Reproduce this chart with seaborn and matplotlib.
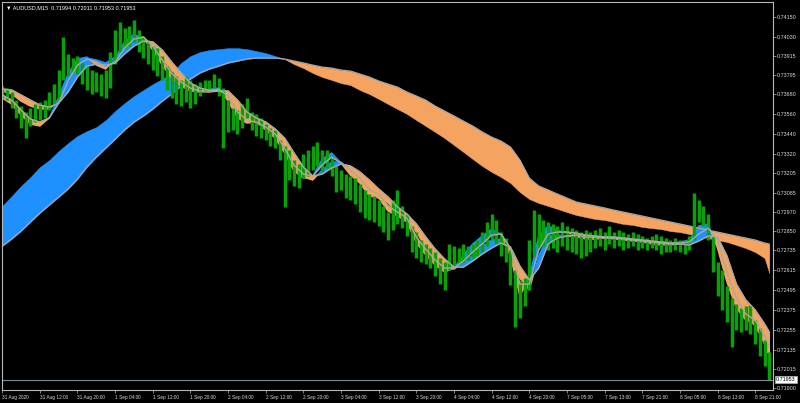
import numpy as np
import seaborn as sns
import matplotlib
matplotlib.use("Agg")
import matplotlib.pyplot as plt
from matplotlib.transforms import blended_transform_factory

# AUDUSD M15, values, prices in points (1e-5)

# bar high / low, one entry every 4 bars
bar_high = [
    73730, 73718, 73694, 73645, 73609, 73573, 73597, 73621, 73633, 73645,
    73694, 73742, 73827, 74027, 73924, 73900, 73912, 73876, 73851, 73827,
    73815, 73803, 73827, 73936, 74069, 74118, 74081, 74094, 74130, 74069,
    74033, 74009, 73972, 73960, 73912, 73851, 73815, 73791, 73767, 73791,
    73767, 73742, 73754, 73767, 73767, 73803, 73779, 73718, 73645, 73597,
    73585, 73621, 73658, 73573, 73561, 73537, 73500, 73476, 73464, 73403,
    73367, 73343, 73282, 73258, 73319, 73343, 73367, 73391, 73343, 73343,
    73306, 73246, 73222, 73197, 73185, 73173, 73137, 73101, 73076, 73064,
    73040, 73004, 72967, 73040, 73101, 73004, 72955, 72883, 72846, 72798,
    72774, 72749, 72725, 72689, 72665, 72774, 72761, 72749, 72774, 72761,
    72774, 72798, 72846, 72907, 72955, 72919, 72846, 72810, 72737, 72616,
    72556, 72568, 72798, 72979, 72955, 72919, 72907, 72895, 72883, 72907,
    72883, 72870, 72858, 72846, 72858, 72846, 72858, 72870, 72846, 72883,
    72846, 72858, 72846, 72834, 72846, 72834, 72822, 72810, 72822, 72834,
    72822, 72810, 72798, 72810, 72798, 72798, 72822, 73082, 73040, 73004,
    72955, 72822, 72665, 72616, 72519, 72447, 72410, 72386, 72398, 72404,
    72313, 72265, 72192, 72120]
bar_low = [
    73658, 73645, 73597, 73537, 73476, 73415, 73488, 73512, 73524, 73537,
    73585, 73621, 73645, 73767, 73791, 73815, 73803, 73742, 73706, 73682,
    73694, 73670, 73658, 73718, 73863, 73936, 73960, 73972, 73997, 73936,
    73900, 73863, 73827, 73791, 73767, 73706, 73658, 73621, 73609, 73633,
    73597, 73621, 73670, 73694, 73706, 73718, 73670, 73355, 73452, 73464,
    73440, 73476, 73537, 73464, 73428, 73415, 73403, 73367, 73355, 73282,
    72998, 73161, 73125, 73113, 73173, 73185, 73222, 73246, 73210, 73234,
    73185, 73088, 73101, 73052, 73040, 73016, 72967, 72931, 72919, 72907,
    72883, 72846, 72798, 72858, 72895, 72870, 72822, 72725, 72689, 72665,
    72653, 72628, 72580, 72531, 72495, 72616, 72640, 72653, 72665, 72677,
    72689, 72701, 72725, 72761, 72798, 72774, 72701, 72665, 72525, 72271,
    72326, 72398, 72495, 72701, 72749, 72761, 72737, 72749, 72725, 72761,
    72737, 72725, 72713, 72689, 72701, 72725, 72749, 72761, 72737, 72774,
    72749, 72761, 72737, 72749, 72761, 72737, 72749, 72737, 72749, 72737,
    72713, 72725, 72725, 72737, 72725, 72713, 72737, 72798, 72907, 72883,
    72798, 72604, 72459, 72374, 72301, 72150, 72253, 72241, 72253, 72229,
    72168, 72095, 72035, 71950]

# moving averages, one entry every 8 bars plus the last bar
slow_fast = [
    73004, 73064, 73125, 73179, 73240, 73282, 73337, 73385, 73428, 73458,
    73482, 73524, 73579, 73627, 73670, 73706, 73742, 73773, 73809, 73870,
    73912, 73936, 73948, 73954, 73960, 73960, 73954, 73942, 73930, 73912,
    73894, 73863, 73839, 73809, 73785, 73767, 73748, 73736, 73706, 73682,
    73652, 73621, 73591, 73561, 73524, 73488, 73452, 73415, 73373, 73331,
    73288, 73246, 73210, 73179, 73143, 73088, 73046, 73022, 73004, 72986,
    72967, 72949, 72937, 72925, 72919, 72907, 72895, 72889, 72877, 72870,
    72864, 72852, 72846, 72834, 72822, 72810, 72798, 72786, 72768, 72749,
    72725, 72689, 72598]
slow_slow = [
    72761, 72804, 72852, 72907, 72961, 73010, 73058, 73107, 73167, 73240,
    73300, 73355, 73409, 73464, 73512, 73549, 73591, 73639, 73682, 73730,
    73773, 73809, 73833, 73851, 73870, 73882, 73894, 73900, 73900, 73900,
    73894, 73882, 73870, 73857, 73845, 73839, 73827, 73821, 73803, 73785,
    73761, 73742, 73724, 73694, 73670, 73645, 73609, 73579, 73549, 73518,
    73488, 73452, 73421, 73397, 73361, 73282, 73173, 73125, 73101, 73076,
    73052, 73028, 73016, 73004, 72992, 72979, 72967, 72955, 72943, 72931,
    72919, 72907, 72895, 72883, 72870, 72858, 72846, 72834, 72822, 72810,
    72798, 72780, 72774]
fast_fast = [
    73658, 73621, 73555, 73500, 73488, 73537, 73664, 73803, 73894, 73906,
    73857, 73833, 73900, 73997, 74045, 74015, 73948, 73857, 73779, 73730,
    73700, 73694, 73712, 73718, 73639, 73537, 73506, 73512, 73464, 73415,
    73325, 73216, 73173, 73185, 73288, 73325, 73264, 73191, 73143, 73064,
    73052, 72973, 72943, 72907, 72780, 72707, 72646, 72604, 72628, 72707,
    72774, 72822, 72864, 72834, 72701, 72459, 72568, 72822, 72883, 72858,
    72840, 72828, 72810, 72804, 72816, 72810, 72810, 72798, 72786, 72780,
    72780, 72780, 72786, 72798, 72883, 72895, 72749, 72543, 72386, 72313,
    72289, 72168, 72095]
fast_slow = [
    73676, 73645, 73585, 73530, 73512, 73537, 73627, 73761, 73857, 73894,
    73876, 73845, 73876, 73960, 74015, 74027, 73972, 73888, 73809, 73754,
    73718, 73700, 73700, 73712, 73670, 73573, 73524, 73512, 73482, 73440,
    73355, 73252, 73197, 73185, 73252, 73300, 73264, 73222, 73173, 73101,
    73076, 73004, 72967, 72931, 72816, 72743, 72677, 72628, 72628, 72671,
    72725, 72774, 72828, 72834, 72749, 72531, 72531, 72737, 72834, 72846,
    72846, 72840, 72828, 72822, 72816, 72816, 72810, 72804, 72798, 72792,
    72786, 72780, 72780, 72786, 72834, 72870, 72798, 72604, 72447, 72350,
    72313, 72217, 72156]
mid_fast = [
    73700, 73682, 73639, 73609, 73591, 73591, 73639, 73742, 73845, 73900,
    73888, 73870, 73906, 73972, 74021, 74015, 73972, 73900, 73827, 73761,
    73712, 73694, 73694, 73700, 73676, 73585, 73524, 73512, 73488, 73434,
    73367, 73264, 73179, 73161, 73222, 73270, 73270, 73222, 73173, 73113,
    73070, 73022, 72961, 72919, 72846, 72755, 72683, 72634, 72622, 72659,
    72707, 72761, 72798, 72804, 72719, 72568, 72495, 72701, 72822, 72828,
    72822, 72816, 72804, 72804, 72810, 72804, 72798, 72792, 72786, 72774,
    72768, 72768, 72774, 72780, 72828, 72870, 72780, 72628, 72435, 72338,
    72277, 72180, 72101]
mid_slow = [
    73712, 73706, 73676, 73645, 73615, 73603, 73627, 73694, 73785, 73851,
    73863, 73857, 73870, 73924, 73972, 74003, 73997, 73948, 73876, 73809,
    73748, 73718, 73706, 73700, 73700, 73645, 73573, 73537, 73512, 73470,
    73415, 73325, 73240, 73185, 73197, 73234, 73258, 73246, 73210, 73161,
    73107, 73058, 72998, 72955, 72895, 72816, 72743, 72683, 72634, 72634,
    72671, 72713, 72749, 72780, 72755, 72640, 72556, 72628, 72774, 72810,
    72822, 72828, 72816, 72816, 72810, 72810, 72804, 72798, 72792, 72786,
    72780, 72774, 72774, 72768, 72792, 72822, 72816, 72701, 72531, 72435,
    72374, 72289, 72241]

time_labels = ["31 Aug 2020", "31 Aug 12:00", "31 Aug 20:00", "1 Sep 04:00",
               "1 Sep 12:00", "1 Sep 20:00", "2 Sep 04:00", "2 Sep 12:00",
               "2 Sep 20:00", "3 Sep 04:00", "3 Sep 12:00", "3 Sep 20:00",
               "4 Sep 04:00", "4 Sep 12:00", "4 Sep 20:00", "7 Sep 05:00",
               "7 Sep 13:00", "7 Sep 21:00", "8 Sep 05:00", "8 Sep 13:00",
               "8 Sep 21:00"]
price_labels = [0.74150, 0.74030, 0.73915, 0.73795, 0.73680, 0.73560, 0.73440,
                0.73320, 0.73205, 0.73085, 0.72970, 0.72850, 0.72735, 0.72615,
                0.72495, 0.72375, 0.72255, 0.72135, 0.72015, 0.71900]
last_price = 0.71953
header = "\u25BC AUDUSD,M15  0.71994 0.72011 0.71953 0.71953"

BLUE = "#1e90ff"
ORANGE = "#f4a460"
GRAY = "#a8a8a8"
GREEN = "#08a208"
FRAME = "#b8b8b8"
TEXT = "#dcdcdc"

sns.set_theme(style="dark", rc={"axes.facecolor": "black",
                                "figure.facecolor": "black"})
plt.rcParams["font.family"] = ["Liberation Sans", "DejaVu Sans"]

bar_x = np.arange(len(bar_high)) * 4
ma_x = np.append(np.arange(len(slow_fast) - 1) * 8, 652)
to_price = lambda v: np.array(v) / 1e5

fig = plt.figure(figsize=(8, 4.03), dpi=100, facecolor="black")
ax = fig.add_axes([0.002, 0.0323, 0.964, 0.9635])
ax.set_facecolor("black")


def ribbon(fast, slow, gray_w, edge_w):
    f = to_price(fast)
    s = to_price(slow)
    ax.fill_between(ma_x, f, s, where=f >= s, interpolate=True,
                    color=BLUE, lw=edge_w)
    ax.fill_between(ma_x, f, s, where=f <= s, interpolate=True,
                    color=ORANGE, lw=edge_w)
    sns.lineplot(x=ma_x, y=s, color=GRAY, lw=gray_w, ax=ax, estimator=None)


# slow band behind the bars
ribbon(slow_fast, slow_slow, 0.9, 0.3)

# price bars (dense, so they read as a jagged band)
ax.vlines(bar_x, to_price(bar_low), to_price(bar_high), color=GREEN, lw=2.5)

# faster bands on top
ribbon(mid_fast, mid_slow, 1.0, 1.0)
ribbon(fast_fast, fast_slow, 1.0, 1.0)

# current price line
ax.axhline(last_price, color="#7c8a98", lw=0.8)

ax.set_xlim(-0.5, 655)
ax.set_ylim(0.71890, 0.74241)

ax.set_xticks(np.arange(len(time_labels)) * 32)
ax.set_xticklabels(time_labels, ha="left")
ax.set_yticks(price_labels)
ax.set_yticklabels([f"{p:.5f}" for p in price_labels])
ax.yaxis.tick_right()
ax.tick_params(axis="y", right=True, left=False, labelright=True,
               labelleft=False, colors=FRAME, labelcolor=TEXT,
               labelsize=3.9, length=2, width=0.5, pad=1)
ax.tick_params(axis="x", bottom=True, colors=FRAME, labelcolor=TEXT,
               labelsize=3.4, length=2.5, width=0.5, pad=1)
ax.grid(False)
for side in ax.spines.values():
    side.set_color(FRAME)
    side.set_linewidth(0.8)
ax.set_xlabel("")
ax.set_ylabel("")

# price box on the right scale
tr = blended_transform_factory(ax.transAxes, ax.transData)
ax.text(1.004, last_price, f"{last_price:.5f}", transform=tr, fontsize=3.9,
        color="black", va="center", ha="left",
        bbox=dict(boxstyle="square,pad=0.2", fc="white", ec="#c0c0c0", lw=0.4))

fig.text(0.008, 0.986, header, color="white", fontsize=4, va="top", ha="left")

fig.savefig("out.png", dpi=100, facecolor="black")
